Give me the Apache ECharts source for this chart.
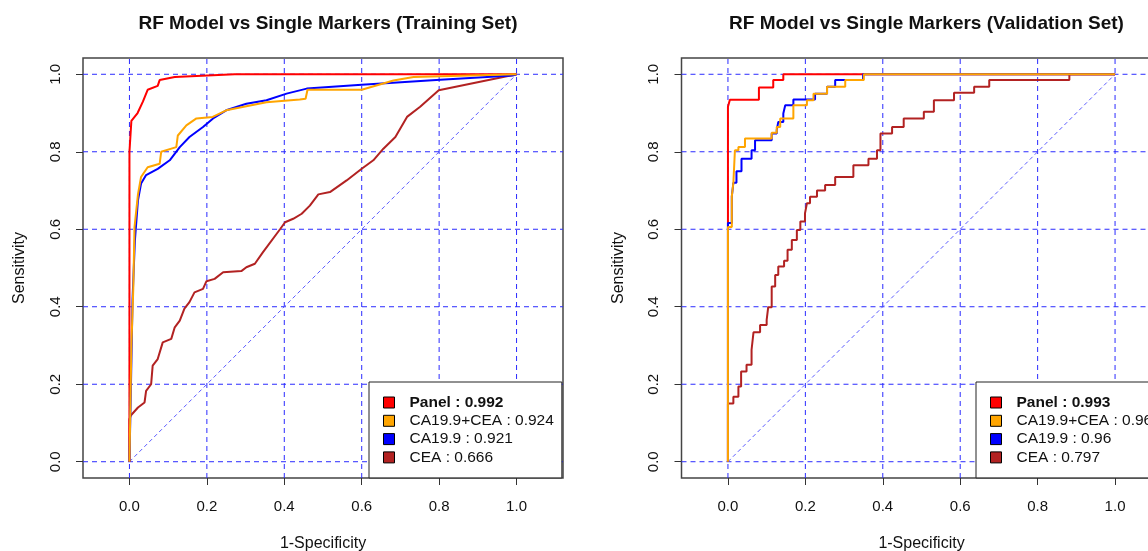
<!DOCTYPE html>
<html>
<head>
<meta charset="utf-8">
<script src="https://cdn.jsdelivr.net/npm/echarts@6.0.0/dist/echarts.min.js"></script>
<style>
  html, body { margin: 0; padding: 0; background: #fff; }
  #chart { width: 1148px; height: 551px; }
</style>
</head>
<body>
<div id="chart"></div>
<script>
// tick values shared by both panels
const ticks = [0, 0.2, 0.4, 0.6, 0.8, 1.0];
const xRange = [-0.12, 1.12];
const yRange = [-0.042, 1.042];

const panelTitles = ["RF Model vs Single Markers (Training Set)", "RF Model vs Single Markers (Validation Set)"];

// legend labels (marker : AUC)
const trainNames = ["Panel : 0.992", "CA19.9+CEA : 0.924", "CA19.9 : 0.921", "CEA : 0.666"];
const validNames = ["Panel : 0.993", "CA19.9+CEA : 0.962", "CA19.9 : 0.96", "CEA : 0.797"];

const curveColors = ["#ff0000", "#ffa500", "#0000ff", "#b22222"];

// ROC points [1-specificity, sensitivity] - training set
const trainPanel = [[0,0],[0,0.80],[0.005,0.88],[0.021,0.90],[0.035,0.93],[0.047,0.96],[0.073,0.97],[0.078,0.985],[0.117,0.993],[0.272,1.0],[1,1]];
const trainCombo = [[0,0],[0.005,0.30],[0.01,0.45],[0.013,0.605],[0.022,0.69],[0.03,0.735],[0.047,0.76],[0.078,0.769],[0.082,0.80],[0.121,0.812],[0.125,0.842],[0.147,0.868],[0.173,0.886],[0.215,0.89],[0.25,0.907],[0.354,0.928],[0.44,0.935],[0.455,0.937],[0.46,0.96],[0.60,0.96],[0.682,0.984],[0.734,0.993],[1,1]];
const trainCA199 = [[0,0],[0.003,0.15],[0.008,0.42],[0.014,0.57],[0.022,0.675],[0.03,0.718],[0.043,0.74],[0.073,0.756],[0.104,0.778],[0.13,0.812],[0.155,0.838],[0.19,0.864],[0.216,0.886],[0.25,0.907],[0.302,0.924],[0.354,0.933],[0.406,0.95],[0.458,0.963],[0.60,0.973],[0.803,0.986],[0.99,0.997],[1,1]];
const trainCEA = [[0,0],[0,0.11],[0.004,0.12],[0.022,0.14],[0.039,0.153],[0.043,0.183],[0.056,0.20],[0.06,0.248],[0.073,0.265],[0.086,0.308],[0.108,0.317],[0.117,0.347],[0.13,0.364],[0.142,0.395],[0.155,0.412],[0.168,0.437],[0.19,0.446],[0.199,0.466],[0.22,0.472],[0.242,0.489],[0.289,0.492],[0.302,0.502],[0.324,0.511],[0.345,0.541],[0.389,0.60],[0.402,0.618],[0.423,0.627],[0.445,0.64],[0.466,0.661],[0.488,0.69],[0.518,0.696],[0.561,0.726],[0.60,0.756],[0.63,0.778],[0.656,0.808],[0.687,0.838],[0.717,0.89],[0.751,0.916],[0.799,0.959],[1,1]];

// ROC points - validation set (step corners)
const validPanel = [[0,0],[0,0.916],[0.005,0.934],[0.08,0.966],[0.117,0.985],[0.143,1.0],[1,1]];
const validCombo = [[0,0],[0,0.606],[0.01,0.685],[0.014,0.72],[0.018,0.804],[0.027,0.812],[0.044,0.834],[0.113,0.849],[0.126,0.864],[0.135,0.886],[0.169,0.92],[0.204,0.933],[0.221,0.95],[0.256,0.968],[0.303,0.985],[0.351,1.0],[1,1]];
const validCA199 = [[0,0],[0,0.616],[0.01,0.685],[0.014,0.72],[0.022,0.75],[0.035,0.782],[0.061,0.804],[0.07,0.83],[0.113,0.847],[0.126,0.856],[0.13,0.877],[0.143,0.899],[0.148,0.92],[0.169,0.935],[0.225,0.95],[0.256,0.968],[0.277,0.985],[0.349,1.0],[1,1]];
const validCEA = [[0,0],[0,0.15],[0.014,0.168],[0.027,0.194],[0.034,0.233],[0.048,0.25],[0.061,0.289],[0.066,0.334],[0.083,0.353],[0.1,0.366],[0.104,0.399],[0.113,0.452],[0.122,0.482],[0.13,0.504],[0.145,0.519],[0.154,0.547],[0.165,0.572],[0.178,0.598],[0.187,0.62],[0.199,0.641],[0.204,0.667],[0.212,0.684],[0.23,0.70],[0.251,0.714],[0.277,0.735],[0.324,0.765],[0.363,0.782],[0.385,0.804],[0.394,0.847],[0.424,0.864],[0.454,0.886],[0.506,0.903],[0.532,0.933],[0.584,0.952],[0.636,0.968],[0.675,0.985],[0.882,1.0],[1,1]];

const FONT = "'Liberation Sans', Arial, sans-serif";
const gridLeft = [83, 681.5];
const legendLeft = [369, 976];
const gridColor = "#2b2bff";

let myChart = echarts.init(document.getElementById("chart"));

function xAxisFor(i) {
  return {
    type: "value", gridIndex: i, min: xRange[0], max: xRange[1],
    name: "1-Specificity", nameLocation: "middle", nameGap: 58,
    nameTextStyle: { fontSize: 16, color: "#111", fontFamily: FONT },
    axisLine: { show: false, onZero: false },
    splitLine: { show: false },
    axisTick: { show: true, customValues: ticks, length: 7, lineStyle: { color: "#333" } },
    axisLabel: { customValues: ticks, formatter: v => v.toFixed(1), margin: 21, fontSize: 15, color: "#111", fontFamily: FONT }
  };
}

function yAxisFor(i) {
  return {
    type: "value", gridIndex: i, min: yRange[0], max: yRange[1],
    name: "Sensitivity", nameLocation: "middle", nameGap: 55,
    nameTextStyle: { fontSize: 16, color: "#111", fontFamily: FONT },
    axisLine: { show: false, onZero: false },
    splitLine: { show: false },
    axisTick: { show: true, customValues: ticks, length: 7, lineStyle: { color: "#333" } },
    axisLabel: { customValues: ticks, formatter: v => v.toFixed(1), rotate: 90, margin: 20, fontSize: 15, color: "#111", fontFamily: FONT }
  };
}

// dashed grid lines as plain line series spanning the whole plot box
function gridLineSeries(i) {
  let out = [];
  ticks.forEach(v => {
    out.push({ type: "line", xAxisIndex: i, yAxisIndex: i, data: [[v, yRange[0]], [v, yRange[1]]] });
    out.push({ type: "line", xAxisIndex: i, yAxisIndex: i, data: [[xRange[0], v], [xRange[1], v]] });
  });
  return out.map(s => Object.assign(s, {
    symbol: "none", silent: true, z: 1,
    lineStyle: { color: gridColor, width: 1, type: [5, 4] }
  }));
}

// reference diagonal
function diagSeries(i) {
  return {
    type: "line", xAxisIndex: i, yAxisIndex: i,
    data: [[0, 0], [1, 1]], symbol: "none", silent: true, z: 1,
    lineStyle: { color: "#5c5cff", width: 1, type: [4, 3] }
  };
}

function curve(name, data, color, i) {
  return {
    name: name, type: "line", xAxisIndex: i, yAxisIndex: i,
    data: data, symbol: "none", step: i === 1 ? "end" : false, z: 3,
    lineStyle: { color: color, width: 2 }, itemStyle: { color: color }
  };
}

function legendFor(i, names) {
  return {
    orient: "vertical", left: legendLeft[i], top: 382, z: 10,
    padding: [12, 8, 12, 14], itemGap: 1.3,
    itemWidth: 11, itemHeight: 11, icon: "rect",
    selectedMode: false,
    backgroundColor: "#fff", borderColor: "#222", borderWidth: 1,
    itemStyle: { borderColor: "#000", borderWidth: 1 },
    textStyle: {
      fontSize: 15.5, lineHeight: 17, color: "#111", fontFamily: FONT,
      rich: {
        gap: { width: 10 },
        b: { fontSize: 15.5, lineHeight: 17, fontWeight: "bold", color: "#111", fontFamily: FONT },
        n: { fontSize: 15.5, lineHeight: 17, color: "#111", fontFamily: FONT }
      }
    },
    formatter: n => (n === names[0] ? "{gap|}{b|" + n + "}" : "{gap|}{n|" + n + "}"),
    data: names
  };
}

const trainData = [trainPanel, trainCombo, trainCA199, trainCEA];
const validData = [validPanel, validCombo, validCA199, validCEA];
// draw order: CEA, Panel, CA19.9, CA19.9+CEA on top
const order = [3, 0, 2, 1];

let series = [].concat(gridLineSeries(0), gridLineSeries(1), [diagSeries(0), diagSeries(1)]);
order.forEach(k => series.push(curve(trainNames[k], trainData[k], curveColors[k], 0)));
order.forEach(k => series.push(curve(validNames[k], validData[k], curveColors[k], 1)));

let option = {
  animation: false,
  backgroundColor: "#fff",
  textStyle: { fontFamily: FONT },
  title: panelTitles.map((t, i) => ({
    text: t, left: gridLeft[i] + 240, top: 9, textAlign: "center",
    textStyle: { fontSize: 19, fontWeight: "bold", color: "#111", fontFamily: FONT }
  })),
  grid: gridLeft.map(l => ({
    left: l, top: 58, width: 480, height: 420, show: true,
    outerBoundsMode: "none", containLabel: false,
    borderColor: "#444", borderWidth: 1.5, backgroundColor: "transparent"
  })),
  xAxis: [xAxisFor(0), xAxisFor(1)],
  yAxis: [yAxisFor(0), yAxisFor(1)],
  legend: [legendFor(0, trainNames), legendFor(1, validNames)],
  series: series
};

myChart.setOption(option);
</script>
</body>
</html>
